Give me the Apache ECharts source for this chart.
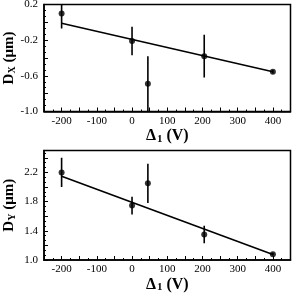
<!DOCTYPE html>
<html><head><meta charset="utf-8">
<script src="https://cdn.jsdelivr.net/npm/echarts@6/dist/echarts.min.js"></script>
<style>html,body{margin:0;padding:0;background:#fff}#c{width:292px;height:294px}</style>
</head><body><div id="c"></div>
<script>
// Data
const deltaV = [-200, 0, 45, 205, 400];
const dxVal  = [0.10, -0.21, -0.69, -0.38, -0.554];
const dxErr  = [0.17, 0.16, 0.31, 0.24, 0.02];
const dyVal  = [2.20, 1.745, 2.05, 1.35, 1.08];
const dyErr  = [0.20, 0.12, 0.27, 0.12, 0.02];
const dxFitX = [-200, 400];
const dxFitY = [-0.011, -0.554];
const dyFitX = [-200, 400];
const dyFitY = [2.147, 1.074];
const xTickLabels = [-200, -100, 0, 100, 200, 300, 400];
const dxTickLabels = [-1.0, -0.6, -0.2, 0.2];
const dyTickLabels = [1.0, 1.4, 1.8, 2.2];

const FONT = 'Liberation Serif';
const near = (v, arr) => arr.some(a => Math.abs(a - v) < 1e-6);

function xAxisCfg(idx) {
  return {
    gridIndex: idx, type: 'value', min: -250, max: 450, interval: 50,
    name: '{b|Δ}{s|1}{b| (V)}', nameLocation: 'middle', nameGap: 16, nameMoveOverlap: false,
    nameTextStyle: { rich: {
      b: { fontFamily: FONT, fontWeight: 'bold', fontSize: 16, color: '#000' },
      s: { fontFamily: FONT, fontWeight: 'bold', fontSize: 11, color: '#000', verticalAlign: 'bottom', padding: [6, 0, 0, 1] }
    }},
    axisLine: { show: true, onZero: false, lineStyle: { color: '#000', width: 1.5 } },
    axisTick: { show: true, inside: true, length: 4, lineStyle: { color: '#000', width: 1 } },
    minorTick: { show: true, splitNumber: 2, length: 2, lineStyle: { color: '#000', width: 1 } },
    splitLine: { show: false },
    axisLabel: { fontFamily: FONT, fontSize: 11, color: '#000', margin: 4,
      formatter: v => near(v, xTickLabels) ? String(v) : '' }
  };
}
function yAxisCfg(idx, min, max, sub, labels) {
  return {
    gridIndex: idx, type: 'value', min: min, max: max, interval: 0.2,
    name: '{b|D}{s|' + sub + '}{b| (μm)}', nameLocation: 'middle', nameGap: 27, nameMoveOverlap: false,
    nameTextStyle: { rich: {
      b: { fontFamily: FONT, fontWeight: 'bold', fontSize: 15, lineHeight: 15, color: '#000' },
      s: { fontFamily: FONT, fontWeight: 'bold', fontSize: 10, lineHeight: 10, color: '#000', verticalAlign: 'bottom' }
    }},
    axisLine: { show: true, onZero: false, lineStyle: { color: '#000', width: 1.5 } },
    axisTick: { show: true, inside: true, length: 4, lineStyle: { color: '#000', width: 1 } },
    minorTick: { show: true, splitNumber: 3, length: 2, lineStyle: { color: '#000', width: 1 } },
    splitLine: { show: false },
    axisLabel: { fontFamily: FONT, fontSize: 11, color: '#000', margin: 6,
      formatter: v => near(v, labels) ? v.toFixed(1) : '' }
  };
}
function errSeries(idx, vals, errs) {
  return {
    type: 'custom', xAxisIndex: idx, yAxisIndex: idx, clip: true,
    data: deltaV.map((x, i) => [x, vals[i] - errs[i], vals[i] + errs[i]]),
    renderItem: (params, api) => {
      const lo = api.coord([api.value(0), api.value(1)]);
      const hi = api.coord([api.value(0), api.value(2)]);
      return { type: 'line', shape: { x1: lo[0], y1: lo[1], x2: hi[0], y2: hi[1] },
        style: { stroke: '#000', lineWidth: 1.6 } };
    },
    z: 2
  };
}
function ptSeries(idx, vals) {
  return { type: 'scatter', xAxisIndex: idx, yAxisIndex: idx, symbol: 'circle', symbolSize: 6,
    itemStyle: { color: '#000' }, data: deltaV.map((x, i) => [x, vals[i]]), z: 3 };
}
function fitSeries(idx, fx, fy) {
  return { type: 'line', xAxisIndex: idx, yAxisIndex: idx, showSymbol: false, symbol: 'none',
    lineStyle: { color: '#000', width: 1.6 }, data: fx.map((x, i) => [x, fy[i]]), z: 2 };
}

const chart = echarts.init(document.getElementById('c'), null, { renderer: 'canvas' });
chart.setOption({
  animation: false,
  backgroundColor: '#fff',
  grid: [
    { left: 44, top: 4.5, width: 246.5, height: 107, show: true, borderColor: '#000', borderWidth: 1.5, outerBoundsMode: 'none', containLabel: false },
    { left: 44, top: 150.5, width: 246.5, height: 109.5, show: true, borderColor: '#000', borderWidth: 1.5, outerBoundsMode: 'none', containLabel: false }
  ],
  xAxis: [xAxisCfg(0), xAxisCfg(1)],
  yAxis: [yAxisCfg(0, -1.0, 0.2, 'X', dxTickLabels), yAxisCfg(1, 1.0, 2.5, 'Y', dyTickLabels)],
  series: [
    fitSeries(0, dxFitX, dxFitY), errSeries(0, dxVal, dxErr), ptSeries(0, dxVal),
    fitSeries(1, dyFitX, dyFitY), errSeries(1, dyVal, dyErr), ptSeries(1, dyVal)
  ]
});
</script></body></html>
